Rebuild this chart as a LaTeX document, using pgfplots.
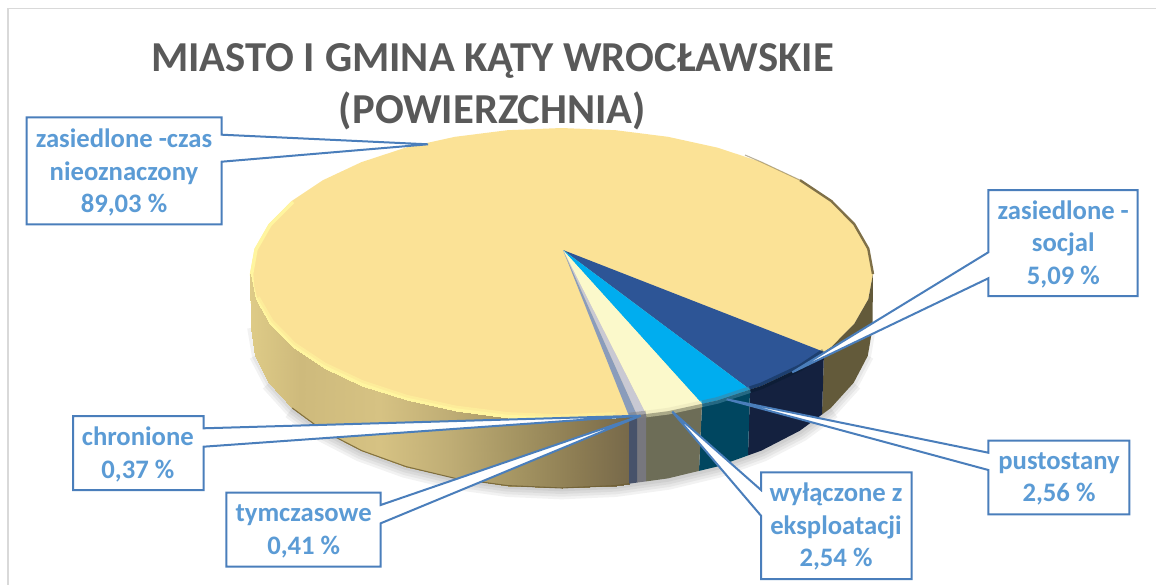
\documentclass[border=0pt]{standalone}
\usepackage{fontspec}
\setmainfont{Carlito}
\usepackage{pgfplots}
\usepackage{pgfplotstable}
\pgfplotsset{compat=1.18}

\definecolor{titlegray}{HTML}{595959}
\definecolor{labelblue}{HTML}{5B9BD5}
\definecolor{callline}{HTML}{4A7EBB}
\definecolor{frame}{HTML}{D9D9D9}
\definecolor{tantop}{HTML}{FBE296}
\definecolor{rimlight}{HTML}{FFF59F}
\definecolor{rimdark}{HTML}{7F7048}
\definecolor{edgedark}{HTML}{6E5E32}

% outer rim of the top face, front part
\pgfplotstableread{
x y
873 274
868.3 299.3
854.2 323.9
831.3 347
800.1 367.8
761.7 385.8
717.3 400.4
668 411.2
615.6 417.8
561.5 420
507.4 417.8
455 411.2
405.7 400.4
361.3 385.8
322.9 367.8
291.7 347
268.8 323.9
254.7 299.3
250 274
254.7 248.7
268.8 224.1
291.7 201
322.9 180.2
361.3 162.2
405.7 147.6
455 136.8
507.4 130.2
561.5 128
615.6 130.2
668 136.8
717.3 147.6
761.7 162.2
800.1 180.2
831.3 201
854.2 224.1
868.3 248.7
}\topface

% side wall of the large slice, two points per column
\pgfplotstableread{
x y
250 274
250.5 328
254.7 299.3
255.2 355.8
268.8 323.9
269.3 382.7
291.7 347
292.2 408
322.9 367.8
323.3 430.8
361.3 385.8
361.6 450.6
405.7 400.4
406 466.6
455 411.2
455.1 478.4
507.4 417.8
507.5 485.6
561.5 420
561.5 488
615.6 417.8
615.5 485.6
629 416.1
629 483.7
}\sidewall

\newcommand{\lbl}[3]{\node[text=labelblue,align=center,font=\fontsize{20}{24.4}\selectfont\bfseries] at (axis cs:#1,#2) {#3};}

\begin{document}
\begin{tikzpicture}
\useasboundingbox (0,0) rectangle (867pt,438.75pt);
\begin{axis}[
    at={(0,0)}, anchor=south west,
    scale only axis,
    width=867pt, height=438.75pt,
    xmin=0, xmax=1156, ymin=0, ymax=585,
    y dir=reverse,
    hide axis,
    colormap={sidetan}{rgb255(250)=(222,203,135) rgb255(300)=(206,186,124) rgb255(380)=(214,194,131) rgb255(450)=(191,173,117) rgb255(520)=(163,147,97) rgb255(580)=(139,123,82) rgb255(629)=(119,105,74)},
    point meta min=250, point meta max=629,
]
% frame
\addplot[frame,line width=1.1pt] coordinates {(8,585) (8,8.5) (1156,8.5)};

% soft shadow under the pie, narrower towards the two ends
\addplot[black,opacity=0.05,line width=17pt,line join=round] coordinates {(830.8,408) (799.7,430.8) (761.4,450.6) (717,466.6) (667.9,478.4) (615.5,485.6) (561.5,488) (507.5,485.6) (455.1,478.4) (406,466.6) (361.6,450.6) (323.3,430.8) (292.2,408)};
\addplot[black,opacity=0.05,line width=13pt,line join=round] coordinates {(853.7,382.7) (830.8,408) (799.7,430.8) (761.4,450.6) (717,466.6) (667.9,478.4) (615.5,485.6) (561.5,488) (507.5,485.6) (455.1,478.4) (406,466.6) (361.6,450.6) (323.3,430.8) (292.2,408) (269.3,382.7)};
\addplot[black,opacity=0.05,line width=9pt,line join=round] coordinates {(867.8,355.8) (853.7,382.7) (830.8,408) (799.7,430.8) (761.4,450.6) (717,466.6) (667.9,478.4) (615.5,485.6) (561.5,488) (507.5,485.6) (455.1,478.4) (406,466.6) (361.6,450.6) (323.3,430.8) (292.2,408) (269.3,382.7) (255.2,355.8)};
\addplot[black,opacity=0.05,line width=5pt,line join=round] coordinates {(872.5,328) (867.8,355.8) (853.7,382.7) (830.8,408) (799.7,430.8) (761.4,450.6) (717,466.6) (667.9,478.4) (615.5,485.6) (561.5,488) (507.5,485.6) (455.1,478.4) (406,466.6) (361.6,450.6) (323.3,430.8) (292.2,408) (269.3,382.7) (255.2,355.8) (250.5,328)};

% top face
\addplot[draw=none,fill=tantop] table {\topface} --cycle;
\addplot[draw=none,fill={rgb,255:red,45;green,85;blue,150}] coordinates {(563,250) (824,351.9) (800.1,367.8) (761.7,385.8) (750,389.6)} --cycle;
\addplot[draw=none,fill={rgb,255:red,0;green,173;blue,239}] coordinates {(563,250) (750,389.6) (717.3,400.4) (702,403.8)} --cycle;
\addplot[draw=none,fill={rgb,255:red,251;green,249;blue,203}] coordinates {(563,250) (702,403.8) (668,411.2) (646,414)} --cycle;
\addplot[draw=none,fill={rgb,255:red,201;green,201;blue,211}] coordinates {(563,250) (646,414) (637,415.1)} --cycle;
\addplot[draw=none,fill={rgb,255:red,138;green,156;blue,187}] coordinates {(563,250) (637,415.1) (629,416.1)} --cycle;

% bevel: light rim on the left, dark on the right, covered in part by the wall
\addplot[rimlight,opacity=0.55,line width=8.5pt] coordinates {(615.6,417.8) (561.5,420) (507.4,417.8) (455,411.2) (405.7,400.4) (361.3,385.8) (322.9,367.8) (291.7,347) (268.8,323.9) (254.7,299.3)};
\addplot[rimlight,line width=4.5pt] coordinates {(561.5,420) (507.4,417.8) (455,411.2) (405.7,400.4) (361.3,385.8) (322.9,367.8) (291.7,347) (268.8,323.9) (254.7,299.3)};
\addplot[rimlight,line width=2.6pt] coordinates {(256,301) (252.4,286) (251.6,274) (256,249.5) (270,225) (293,202)};
\addplot[rimdark,opacity=0.55,line width=0.8pt] coordinates {(745,155) (761.7,162.2) (800.1,180.2) (831.3,201)};
\addplot[rimdark,line width=1.8pt] coordinates {(800.1,180.2) (831.3,201) (854.2,224.1) (868.3,248.7) (873,274)};

% side walls
\addplot[surf,shader=interp,mesh/cols=2,point meta=x] table {\sidewall};
\addplot[draw=none,fill={rgb,255:red,99;green,90;blue,58}] coordinates {(873,274) (868.3,299.3) (854.2,323.9) (831.3,347) (824,351.9) (822,414.5) (830.8,408) (853.7,382.7) (867.8,355.8) (872.5,328)} --cycle;
\addplot[draw=none,fill={rgb,255:red,20;green,33;blue,63}] coordinates {(824,351.9) (800.1,367.8) (761.7,385.8) (750,389.6) (748,455.4) (761.4,450.6) (799.7,430.8) (822,414.5)} --cycle;
\addplot[draw=none,fill={rgb,255:red,0;green,70;blue,96}] coordinates {(750,389.6) (717.3,400.4) (702,403.8) (699,470.9) (717,466.6) (748,455.4)} --cycle;
\addplot[draw=none,fill={rgb,255:red,109;green,109;blue,87}] coordinates {(702,403.8) (668,411.2) (646,414) (646,481.4) (667.9,478.4) (699,470.9)} --cycle;
\addplot[draw=none,fill={rgb,255:red,119;green,119;blue,126}] coordinates {(646,414) (637,415.1) (637,482.6) (646,481.4)} --cycle;
\addplot[draw=none,fill={rgb,255:red,71;green,82;blue,106}] coordinates {(637,415.1) (629,416.1) (629,483.7) (637,482.6)} --cycle;
\addplot[edgedark,opacity=0.8,line width=0.8pt] coordinates {(292.2,408) (323.3,430.8) (361.6,450.6) (406,466.6) (455.1,478.4) (507.5,485.6) (561.5,488) (615.5,485.6) (629,483.7)};

% soft step from top face to wall on the small slices
\addplot[{black!40!blue!55!cyan!20!black},opacity=0.35,line width=5pt] coordinates {(824,351.9) (800.1,367.8) (761.7,385.8) (750,389.6)};
\addplot[{black!40!cyan},opacity=0.55,line width=5pt] coordinates {(750,389.6) (717.3,400.4) (702,403.8)};
\addplot[{black!35!yellow!30!white},opacity=0.5,line width=5pt] coordinates {(702,403.8) (668,411.2) (646,414)};
\addplot[gray,opacity=0.5,line width=5pt] coordinates {(646,414) (637,415.1) (629,416.1)};

% callouts
\addplot[fill=white,draw=callline,line width=1.5pt] coordinates {(26.7,117.3) (221.7,117.3) (221.7,134.7) (428,144.3) (221.7,161.7) (221.7,224.3) (26.7,224.3)} --cycle;
\addplot[fill=white,draw=callline,line width=1.5pt] coordinates {(988.3,190) (1137.7,190) (1137.7,296) (988.3,296) (988.3,278.3) (792.3,372.3) (988.3,252.3)} --cycle;
\addplot[fill=white,draw=callline,line width=1.5pt] coordinates {(988.3,440.7) (1129.3,440.7) (1129.3,514.3) (988.3,514.3) (988.3,470) (726.7,399.3) (988.3,452.7)} --cycle;
\addplot[fill=white,draw=callline,line width=1.5pt] coordinates {(761,472.3) (911.7,472.3) (911.7,579) (761,579) (761,515.7) (672.3,411.7) (761,490)} --cycle;
\addplot[fill=white,draw=callline,line width=1.5pt] coordinates {(73,416) (203.5,416) (203.5,428.3) (640.7,415.7) (203.5,446.7) (203.5,490) (73,490)} --cycle;
\addplot[fill=white,draw=callline,line width=1.5pt] coordinates {(226.3,492.7) (380.7,492.7) (380.7,505) (640.7,415.7) (380.7,523.3) (380.7,566.7) (226.3,566.7)} --cycle;

\lbl{124}{172.9}{zasiedlone -czas\\nieoznaczony\\89,03 \%}
\lbl{1063.3}{244}{zasiedlone -\\socjal\\5,09 \%}
\lbl{1059}{479}{pustostany\\2,56 \%}
\lbl{836}{526.7}{wyłączone z\\eksploatacji\\2,54 \%}
\lbl{137.8}{454.5}{chronione\\0,37 \%}
\lbl{303.7}{531.3}{tymczasowe\\0,41 \%}

\node[text=titlegray,align=center,font=\fontsize{32}{39}\selectfont\bfseries] at (axis cs:492.5,87) {MIASTO I GMINA KĄTY WROCŁAWSKIE\\(POWIERZCHNIA)};
\end{axis}
\end{tikzpicture}
\end{document}
